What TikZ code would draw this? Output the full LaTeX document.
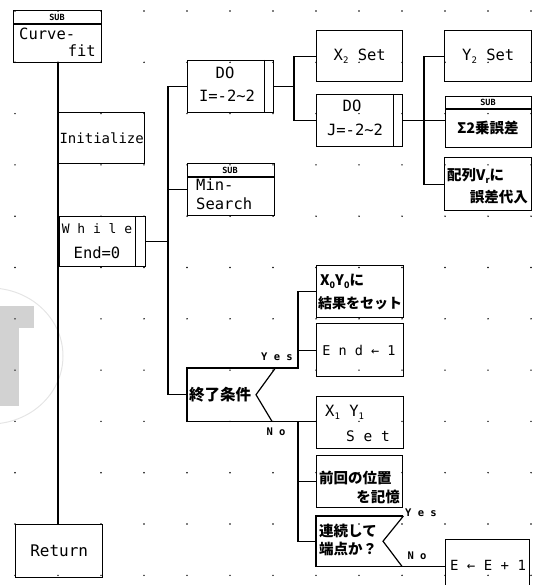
\documentclass[tikz,border=0pt]{standalone}
\usepackage{fontspec}
\setmainfont{DejaVu Sans Mono}
\newfontfamily\jp{Noto Sans CJK JP}
\newcommand{\sbs}[1]{\raisebox{-0.35ex}{\fontsize{9}{9}\selectfont #1}}
\begin{document}
\begin{tikzpicture}[x=1pt,y=-1pt,
  box/.style={draw, line width=1.4pt, inner sep=0pt, anchor=north west, minimum width=86pt, minimum height=52pt},
  ghost/.style={inner sep=0pt, anchor=north west},
  ln/.style={line width=1.2pt},
  lat/.style={font=\fontsize{15.5}{17}\selectfont, inner sep=0pt},
  jpt/.style={font=\jp\bfseries\fontsize{14.5}{16}\selectfont, inner sep=0pt},
  subt/.style={font=\fontsize{8.5}{8.5}\selectfont\bfseries, inner sep=0pt},
  lbl/.style={font=\fontsize{10.5}{11}\selectfont\bfseries, inner sep=0pt}]
\useasboundingbox (0,0) rectangle (532,585);
\clip (0,0) rectangle (532,585);
% watermark
\fill[gray!35] (0,306) rectangle (34,328);
\fill[gray!35] (0,328) rectangle (19,406);
\draw[gray!20, line width=1pt] (-10,356) ellipse (73 and 68);
% grid dots
\foreach \i in {0,...,12} {
  \foreach \j in {0,...,11} {
    \fill (15+43*\i, 11+51.3*\j) circle (0.8pt);
  }
}
% boxes
\node[box, minimum width=88pt, minimum height=52pt] (cf) at (13,10) {};
\node[box, minimum width=86pt, minimum height=51pt] (init) at (58,112) {};
\node[box, minimum width=86pt, minimum height=50pt] (wh) at (59,216) {};
\node[box, minimum width=87pt, minimum height=53pt] (ret) at (15,524) {};
\node[box, minimum width=86pt, minimum height=52pt] (dI) at (187,60) {};
\node[box, minimum width=87pt, minimum height=52pt] (ms) at (187,163) {};
\node[box, minimum width=86pt, minimum height=51pt] (x2) at (316,30) {};
\node[box, minimum width=86pt, minimum height=52pt] (dJ) at (316,94) {};
\node[box, minimum width=87pt, minimum height=51pt] (y2) at (444,30) {};
\node[box, minimum width=86pt, minimum height=51pt] (sg) at (445,96) {};
\node[box, minimum width=87pt, minimum height=53pt] (hr) at (444,157) {};
\node[box, minimum width=87pt, minimum height=52pt] (xo) at (316,265) {};
\node[box, minimum width=87pt, minimum height=53pt] (en) at (316,323) {};
\node[box, minimum width=87pt, minimum height=52pt] (x1) at (316,396) {};
\node[box, minimum width=86pt, minimum height=52pt] (zk) at (316,455) {};
\node[box, minimum width=84pt, minimum height=52pt] (eb) at (445,539) {};
\node[ghost, minimum width=88pt, minimum height=53pt] (d1) at (187,368) {};
\node[ghost, minimum width=87pt, minimum height=50pt] (d2) at (316,516) {};
% headers and bars
\draw[ln] ([yshift=-14pt]cf.north west) -- ([yshift=-14pt]cf.north east);
\draw[ln] ([yshift=-14pt]ms.north west) -- ([yshift=-14pt]ms.north east);
\draw[ln] ([yshift=-13pt]sg.north west) -- ([yshift=-13pt]sg.north east);
\draw[ln] ([xshift=-11pt]wh.north east) -- ([xshift=-11pt]wh.south east);
\draw[ln] ([xshift=-10pt]dI.north east) -- ([xshift=-10pt]dI.south east);
\draw[ln] ([xshift=-10pt]dJ.north east) -- ([xshift=-10pt]dJ.south east);
% decisions
\draw[line width=1.4pt] (d1.north east) -- (d1.north west) -- (d1.south west) -- (d1.south -| x1.west);
\draw[ln] (d1.north east) -- ([xshift=69pt]d1.west) -- ([xshift=85pt]d1.south west);
\draw[line width=1.4pt] (d2.north east) -- (d2.north west) -- (d2.south west) -- (d2.south -| eb.west);
\draw[ln] (d2.north east) -- ([xshift=67pt]d2.west) -- ([xshift=86pt]d2.south west);
% connectors
\coordinate (tr) at (168,0);
\coordinate (t2) at (294,0);
\coordinate (t3) at (424,0);
\coordinate (b1) at (298,368);
\coordinate (b2) at (298,421);
\draw[ln] (init.west |- cf.south) -- (init.west |- ret.north);
\draw[ln] (wh.east) -- (wh.east -| tr);
\draw[ln] (dI.west) -| (tr |- d1.west) -- (d1.west);
\draw[ln] (tr |- ms.west) -- (ms.west);
\draw[ln] (dI.east) -| (t2 |- x2.west) -- (x2.west);
\draw[ln] (t2 |- dI.east) |- (dJ.west);
\draw[ln] (y2.west) -| (t3 |- hr.west) -- (hr.west);
\draw[ln] (dJ.east) -- (dJ.east -| sg.west);
\draw[ln] (d1.north east) -- (b1) |- (xo.west);
\draw[ln] (b1 |- en.west) -- (en.west);
\draw[ln] (b2) |- (d2.west);
\draw[ln] (b2 |- zk.west) -- (zk.west);
% texts
\node[subt] (cfS) at (57,17) {SUB};
\node[lat, anchor=west] (cfA) at (19,34) {Curve-};
\node[lat, anchor=east] (cfB) at (96,51) {fit};
\node[lat, font=\fontsize{14}{16}\selectfont] (initT) at (init.center) {Initialize};
\node[lat, font=\fontsize{13}{15}\selectfont] (whA) at (97,229) {W h i l e};
\node[lat] (whB) at (97,253) {End=0};
\node[lat, font=\fontsize{16}{18}\selectfont] (retT) at (ret.center) {Return};
\node[lat] (dIa) at (225,73) {DO};
\node[lat] (dIb) at (227,96) {I=-2\textasciitilde 2};
\node[subt] (msS) at (230,170) {SUB};
\node[lat, anchor=west] (msA) at (196,185) {Min-};
\node[lat, anchor=west] (msB) at (196,204) {Search};
\node[lat] (x2T) at (x2.center) {X\sbs{2} Set};
\node[lat] (dJa) at (352,106) {DO};
\node[lat] (dJb) at (355,130) {J=-2\textasciitilde 2};
\node[lat] (y2T) at (y2.center) {Y\sbs{2} Set};
\node[subt] (sgS) at (488,102) {SUB};
\node[jpt] (sgT) at (488,128) {Σ2乗誤差};
\node[jpt, anchor=west] (hrA) at (447,176) {配列V\sbs{r}に};
\node[jpt, anchor=east] (hrB) at (528,197) {誤差代入};
\node[jpt, anchor=west] (xoA) at (320,281) {X\sbs{0}Y\sbs{0}に};
\node[jpt, anchor=west, font=\jp\bfseries\fontsize{14}{16}\selectfont] (xoB) at (318,303) {結果をセット};
\node[lat, font=\fontsize{13.5}{15}\selectfont] (enT) at (359,350) {E n d ← 1};
\node[lat, anchor=west] (x1A) at (325,412) {X\sbs{1} Y\sbs{1}};
\node[lat, font=\fontsize{14.5}{16}\selectfont] (x1B) at (368,436) {S e t};
\node[jpt, anchor=west] (zkA) at (319,478) {前回の位置};
\node[jpt, anchor=east] (zkB) at (400,497) {を記憶};
\node[jpt, anchor=west] (d2A) at (319,531) {連続して};
\node[jpt, anchor=west] (d2B) at (319,549) {端点か？};
\node[jpt, anchor=west, font=\jp\bfseries\fontsize{15.5}{17}\selectfont] (d1T) at (189,395) {終了条件};
\node[lbl, anchor=east] (yes1) at (293,357) {Y e s};
\node[lbl] (no1) at (276,432) {N o};
\node[lbl, anchor=west] (yes2) at (405,513) {Y e s};
\node[lbl] (no2) at (417,556) {N o};
\node[lat, font=\fontsize{14}{16}\selectfont] (ebT) at (488,565) {E ← E + 1};
\end{tikzpicture}
\end{document}
